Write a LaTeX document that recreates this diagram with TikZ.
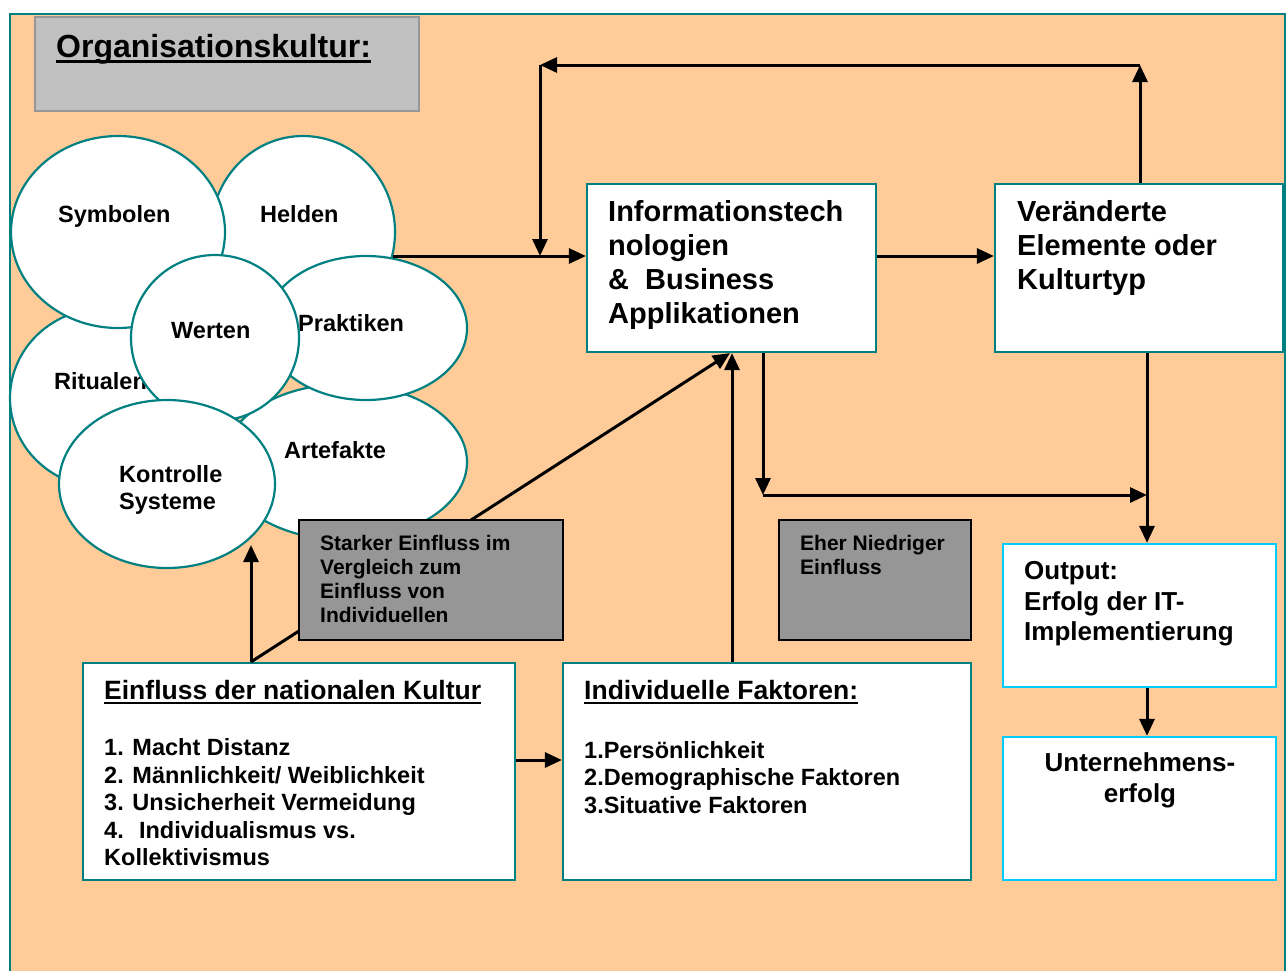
\documentclass[tikz,border=0pt]{standalone}
\usepackage{fontspec}
\setmainfont{Liberation Sans}
\usetikzlibrary{arrows.meta,shapes.geometric}

\definecolor{bgorange}{RGB}{255,204,153}
\definecolor{tealline}{RGB}{0,128,128}
\definecolor{skyline}{RGB}{0,204,255}
\definecolor{titlegray}{RGB}{192,192,192}
\definecolor{titleedge}{RGB}{150,150,150}
\definecolor{notegray}{RGB}{150,150,150}

\tikzset{
  blob/.style={ellipse, draw=tealline, fill=white, line width=2.2pt, inner sep=0pt},
  whitebox/.style={rectangle, draw=tealline, fill=white, line width=2.2pt, inner sep=0pt},
  skybox/.style={rectangle, draw=skyline, fill=white, line width=2.2pt, inner sep=0pt},
  notebox/.style={rectangle, draw=black, fill=notegray, line width=2.2pt, inner sep=0pt},
  arr/.style={-{Triangle[length=17pt,width=15pt]}, line width=3pt},
  uline/.style={line width=2.6pt},
  txt/.style={anchor=base west, inner sep=0pt, font=\bfseries},
  ctxt/.style={anchor=base, inner sep=0pt, font=\bfseries},
  sz32/.style={font=\bfseries\fontsize{32}{36}\selectfont},
  sz29/.style={font=\bfseries\fontsize{29}{34}\selectfont},
  sz265/.style={font=\bfseries\fontsize{26.5}{31}\selectfont},
  sz26/.style={font=\bfseries\fontsize{26}{30}\selectfont},
  sz235/.style={font=\bfseries\fontsize{23.5}{28}\selectfont},
  sz21/.style={font=\bfseries\fontsize{21}{24}\selectfont},
}

\begin{document}
\begin{tikzpicture}[x=1pt,y=-1pt]
\useasboundingbox (0,0) rectangle (1287,970);
\fill[white] (0,0) rectangle (1287,970);
\filldraw[fill=bgorange, draw=tealline, line width=2.2pt] (10,14) rectangle (1285,1000);

% title panel
\node[rectangle, fill=titlegray, draw=titleedge, line width=2pt, minimum width=384pt, minimum height=94pt] (ttl) at (227,64) {};
\node[txt, sz32] (ttltext) at (56,57) {Organisationskultur:};
\draw[uline] ([yshift=-4.5pt]ttltext.base west) -- ([yshift=-4.5pt]ttltext.base east);

% culture elements
\node[blob, minimum width=184pt, minimum height=192pt] (hel) at (303,232) {};
\node[txt, sz235] (helt) at (260,222) {Helden};
\node[blob, minimum width=244pt, minimum height=156pt] (art) at (345,462) {};
\node[txt, sz235] (artt) at (284,458) {Artefakte};
\node[blob, minimum width=202pt, minimum height=144pt] (pra) at (366,328) {};
\node[txt, sz235] (prat) at (298,331) {Praktiken};
\node[blob, minimum width=190pt, minimum height=180pt] (rit) at (105,398) {};
\node[txt, sz235] (ritt) at (54,389) {Ritualen};
\node[blob, minimum width=214pt, minimum height=192pt] (sym) at (118,232) {};
\node[txt, sz235] (symt) at (58,222) {Symbolen};
\node[blob, minimum width=168pt, minimum height=166pt] (wer) at (215,338) {};
\node[txt, sz235] (wert) at (171,338) {Werten};
\node[blob, minimum width=216pt, minimum height=168pt] (kon) at (167,484) {};
\node[txt, sz235] (kont1) at (119,482) {Kontrolle};
\node[txt, sz235] (kont2) at (119,509) {Systeme};

% main boxes
\node[whitebox, minimum width=289pt, minimum height=168pt] (it) at (731.5,268) {};
\node[txt, sz29] (it1) at (608,221) {Informationstech};
\node[txt, sz29] (it2) at (608,255) {nologien};
\node[txt, sz29] (it3) at (608,289) {\&~ Business};
\node[txt, sz29] (it4) at (608,323) {Applikationen};

\node[whitebox, minimum width=288pt, minimum height=168pt] (ver) at (1139,268) {};
\node[txt, sz29] (ver1) at (1017,221) {Veränderte};
\node[txt, sz29] (ver2) at (1017,255) {Elemente oder};
\node[txt, sz29] (ver3) at (1017,289) {Kulturtyp};

\node[skybox, minimum width=273pt, minimum height=143pt] (out) at (1139.5,615.5) {};
\node[txt, sz26] (out1) at (1024,579) {Output:};
\node[txt, sz26] (out2) at (1024,610) {Erfolg der IT-};
\node[txt, sz26] (out3) at (1024,640) {Implementierung};

\node[skybox, minimum width=273pt, minimum height=143pt] (unt) at (1139.5,808.5) {};
\node[ctxt, sz26] (unt1) at (1140,771) {Unternehmens-};
\node[ctxt, sz26] (unt2) at (1140,802) {erfolg};

\node[whitebox, minimum width=432pt, minimum height=217pt] (nat) at (299,771.5) {};
\node[txt, sz265] (nath) at (104,699) {Einfluss der nationalen Kultur};
\draw[uline] ([yshift=-4pt]nath.base west) -- ([yshift=-4pt]nath.base east);
\node[txt, sz235] (nat1) at (104,755) {1. Macht Distanz};
\node[txt, sz235] (nat2) at (104,783) {2. Männlichkeit/ Weiblichkeit};
\node[txt, sz235] (nat3) at (104,810) {3. Unsicherheit Vermeidung};
\node[txt, sz235] (nat4) at (104,838) {4.~ Individualismus vs.};
\node[txt, sz235] (nat5) at (104,865) {Kollektivismus};

\node[whitebox, minimum width=408pt, minimum height=217pt] (ind) at (767,771.5) {};
\node[txt, sz265] (indh) at (584,699) {Individuelle Faktoren:};
\draw[uline] ([yshift=-4pt]indh.base west) -- ([yshift=-4pt]indh.base east);
\node[txt, sz235] (ind1) at (584,758) {1.Persönlichkeit};
\node[txt, sz235] (ind2) at (584,785) {2.Demographische Faktoren};
\node[txt, sz235] (ind3) at (584,813) {3.Situative Faktoren};

% anchor points for the connectors
\coordinate (hout) at (393,256);
\coordinate (fbR) at (1140,65);
\coordinate (fbL) at (540,65);
\coordinate (fbD) at (540,256);
\coordinate (vx) at (1147,0);
\coordinate (lowT) at (763,495);
\coordinate (indx) at (732,0);
\coordinate (natx) at (251,0);
\coordinate (diagx) at (730,0);
\coordinate (konB) at (251,545);
\coordinate (natmid) at (0,760);

% connectors
\draw[arr] (hout) -- (it.west |- hout);
\draw[arr] (ver.north -| fbR) -- (fbR);
\draw[arr] (fbR) -- (fbL);
\draw[arr] (fbL) -- (fbD);
\draw[arr] (it.east |- hout) -- (ver.west |- hout);
\draw[arr] (ver.south -| vx) -- (out.north -| vx);
\draw[arr] (it.south -| lowT) -- (lowT);
\draw[arr] (lowT) -- (lowT -| vx);
\draw[arr] (ind.north -| indx) -- (it.south -| indx);
\draw[arr] (nat.north -| natx) -- (it.south -| diagx);
\draw[arr] (nat.north -| natx) -- (konB);
\draw[arr] (nat.east |- natmid) -- (ind.west |- natmid);
\draw[arr] (out.south -| vx) -- (unt.north -| vx);

% influence notes
\node[notebox, minimum width=264pt, minimum height=120pt] (stark) at (431,580) {};
\node[txt, sz21] (stark1) at (320,550) {Starker Einfluss im};
\node[txt, sz21] (stark2) at (320,574) {Vergleich zum};
\node[txt, sz21] (stark3) at (320,598) {Einfluss von};
\node[txt, sz21] (stark4) at (320,622) {Individuellen};

\node[notebox, minimum width=192pt, minimum height=120pt] (eher) at (875,580) {};
\node[txt, sz21] (eher1) at (800,550) {Eher Niedriger};
\node[txt, sz21] (eher2) at (800,574) {Einfluss};
\end{tikzpicture}
\end{document}
